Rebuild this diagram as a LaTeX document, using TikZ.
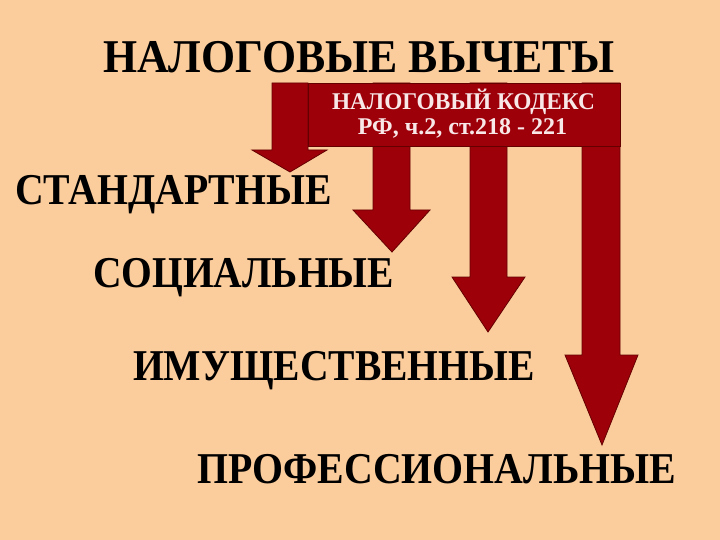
\documentclass[tikz,border=0pt]{standalone}
\usepackage{graphicx}
\usepackage{fontspec}
\setmainfont{Liberation Serif}
\definecolor{bgpeach}{RGB}{251,204,156}
\definecolor{arrred}{RGB}{158,0,10}
\definecolor{arrline}{RGB}{100,0,0}
\definecolor{boxtext}{RGB}{248,232,232}
\newcommand{\hsq}[2]{\scalebox{#1}[1]{#2}}
\tikzset{
  bigarrow/.style={fill=arrred, draw=arrline, line width=0.8pt, line join=miter},
  lbl/.style={anchor=base west, inner sep=0pt, font=\bfseries\fontsize{44}{48}\selectfont},
  boxlbl/.style={anchor=base, inner sep=0pt, text=boxtext, font=\bfseries\fontsize{24}{26}\selectfont}
}
\begin{document}
\begin{tikzpicture}[x=1pt,y=-1pt]
\useasboundingbox (0,0) rectangle (720,540);
\fill[bgpeach] (0,0) rectangle (720,540);
% arrows
\draw[bigarrow] (272,83) -- (272,150) -- (252,150) -- (290,172) -- (327,150) -- (308,150) -- (308,83) -- cycle;
\draw[bigarrow] (373,83) -- (373,210) -- (353,210) -- (392,252) -- (430,210) -- (410,210) -- (410,83) -- cycle;
\draw[bigarrow] (470,83) -- (470,277) -- (452,277) -- (488,332) -- (525,277) -- (507,277) -- (507,83) -- cycle;
\draw[bigarrow] (582,83) -- (582,355) -- (565,355) -- (602,445) -- (638,355) -- (620,355) -- (620,83) -- cycle;
% box
\node[fill=arrred, draw=arrline, line width=0.8pt, minimum width=312pt, minimum height=63pt, anchor=north west, inner sep=0pt] (kodeks) at (308,83) {};
\node[boxlbl] (k1) at (463.5,110) {\hsq{0.97}{НАЛОГОВЫЙ КОДЕКС}};
\node[boxlbl] (k2) at (462.5,135) {РФ, ч.2, ст.218 - 221};
% labels
\node[lbl, font=\bfseries\fontsize{47}{50}\selectfont] (title) at (103,73) {\hsq{0.932}{НАЛОГОВЫЕ ВЫЧЕТЫ}};
\node[lbl] (std) at (15,205) {\hsq{0.903}{СТАНДАРТНЫЕ}};
\node[lbl] (soc) at (93,287) {\hsq{0.898}{СОЦИАЛЬНЫЕ}};
\node[lbl] (imu) at (133,380) {\hsq{0.899}{ИМУЩЕСТВЕННЫЕ}};
\node[lbl] (prof) at (197,483) {\hsq{0.905}{ПРОФЕССИОНАЛЬНЫЕ}};
\end{tikzpicture}
\end{document}
